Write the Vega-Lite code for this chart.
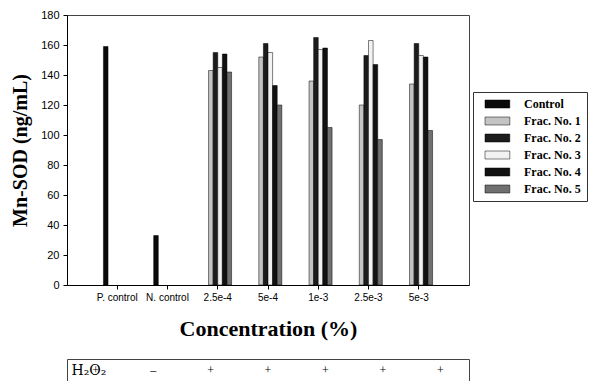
{
  "$schema": "https://vega.github.io/schema/vega-lite/v6.json",
  "padding": {"left": 10, "top": 8, "right": 0, "bottom": 0},
  "background": "white",
  "config": {
    "view": {"stroke": "#444", "strokeWidth": 1},
    "axis": {"domainColor": "#000", "tickColor": "#000", "labelColor": "#000", "titleColor": "#000", "grid": false}
  },
  "spacing": 18,
  "vconcat": [
    {
      "width": 402,
      "height": 270,
      "data": {
        "values": [
          {"conc": "P. control", "series": "Control", "value": 159},
          {"conc": "N. control", "series": "Control", "value": 33},
          {"conc": "2.5e-4", "series": "Frac. No. 1", "value": 143},
          {"conc": "2.5e-4", "series": "Frac. No. 2", "value": 155},
          {"conc": "2.5e-4", "series": "Frac. No. 3", "value": 145},
          {"conc": "2.5e-4", "series": "Frac. No. 4", "value": 154},
          {"conc": "2.5e-4", "series": "Frac. No. 5", "value": 142},
          {"conc": "5e-4", "series": "Frac. No. 1", "value": 152},
          {"conc": "5e-4", "series": "Frac. No. 2", "value": 161},
          {"conc": "5e-4", "series": "Frac. No. 3", "value": 155},
          {"conc": "5e-4", "series": "Frac. No. 4", "value": 133},
          {"conc": "5e-4", "series": "Frac. No. 5", "value": 120},
          {"conc": "1e-3", "series": "Frac. No. 1", "value": 136},
          {"conc": "1e-3", "series": "Frac. No. 2", "value": 165},
          {"conc": "1e-3", "series": "Frac. No. 3", "value": 157},
          {"conc": "1e-3", "series": "Frac. No. 4", "value": 158},
          {"conc": "1e-3", "series": "Frac. No. 5", "value": 105},
          {"conc": "2.5e-3", "series": "Frac. No. 1", "value": 120},
          {"conc": "2.5e-3", "series": "Frac. No. 2", "value": 153},
          {"conc": "2.5e-3", "series": "Frac. No. 3", "value": 163},
          {"conc": "2.5e-3", "series": "Frac. No. 4", "value": 147},
          {"conc": "2.5e-3", "series": "Frac. No. 5", "value": 97},
          {"conc": "5e-3", "series": "Frac. No. 1", "value": 134},
          {"conc": "5e-3", "series": "Frac. No. 2", "value": 161},
          {"conc": "5e-3", "series": "Frac. No. 3", "value": 153},
          {"conc": "5e-3", "series": "Frac. No. 4", "value": 152},
          {"conc": "5e-3", "series": "Frac. No. 5", "value": 103}
        ]
      },
      "mark": {"type": "bar", "stroke": "#000", "strokeWidth": 0.5},
      "encoding": {
        "x": {
          "field": "conc", "type": "nominal",
          "scale": {"domain": ["P. control", "N. control", "2.5e-4", "5e-4", "1e-3", "2.5e-3", "5e-3"], "paddingInner": 0.45, "paddingOuter": 0.725},
          "axis": {"title": "Concentration  (%)", "labelAngle": 0, "labelFont": "Liberation Sans", "labelFontSize": 10, "labelPadding": 3, "tickSize": 4, "titleFont": "Liberation Serif", "titleFontSize": 22, "titleFontWeight": "bold", "titlePadding": 16}
        },
        "xOffset": {
          "field": "series", "type": "nominal",
          "scale": {"domain": ["Control", "Frac. No. 1", "Frac. No. 2", "Frac. No. 3", "Frac. No. 4", "Frac. No. 5"], "paddingInner": 0, "paddingOuter": 0}
        },
        "y": {
          "field": "value", "type": "quantitative",
          "scale": {"domain": [0, 180]},
          "axis": {"values": [0, 20, 40, 60, 80, 100, 120, 140, 160, 180], "title": "Mn-SOD  (ng/mL)", "labelFont": "Liberation Sans", "labelFontSize": 11, "tickSize": 4, "labelPadding": 4, "titleFont": "Liberation Serif", "titleFontSize": 20, "titleFontWeight": "bold", "titlePadding": 10}
        },
        "color": {
          "field": "series", "type": "nominal",
          "scale": {"domain": ["Control", "Frac. No. 1", "Frac. No. 2", "Frac. No. 3", "Frac. No. 4", "Frac. No. 5"], "range": ["#0a0a0a", "#c4c4c4", "#1c1c1c", "#f2f2f2", "#111111", "#707070"]},
          "legend": {"orient": "none", "legendX": 406, "legendY": 77, "title": null, "symbolType": "M0,-1H6.2V1H0Z", "symbolSize": 64, "symbolStrokeColor": "#000", "symbolStrokeWidth": 0.5, "labelFont": "Liberation Serif", "labelFontSize": 12, "labelFontWeight": "bold", "labelColor": "#000", "labelOffset": 33, "rowPadding": 5, "padding": 6, "strokeColor": "#333"}
        }
      }
    },
    {
      "width": 402,
      "height": 22,
      "data": {
        "values": [
          {"conc": "P. control", "row": "H₂O₂", "sign": "+"},
          {"conc": "N. control", "row": "H₂O₂", "sign": "–"},
          {"conc": "2.5e-4", "row": "H₂O₂", "sign": "+"},
          {"conc": "5e-4", "row": "H₂O₂", "sign": "+"},
          {"conc": "1e-3", "row": "H₂O₂", "sign": "+"},
          {"conc": "2.5e-3", "row": "H₂O₂", "sign": "+"},
          {"conc": "5e-3", "row": "H₂O₂", "sign": "+"}
        ]
      },
      "mark": {"type": "text", "font": "Liberation Serif", "fontSize": 12, "fill": "#000"},
      "encoding": {
        "x": {
          "field": "conc", "type": "nominal",
          "scale": {"domain": ["P. control", "N. control", "2.5e-4", "5e-4", "1e-3", "2.5e-3", "5e-3"], "paddingInner": 0.45, "paddingOuter": 0.725},
          "axis": null
        },
        "y": {
          "field": "row", "type": "nominal",
          "axis": {"title": null, "domain": false, "ticks": false, "tickSize": 0, "labelFont": "DejaVu Serif", "labelFontSize": 14, "labelAlign": "left", "labelPadding": -4, "labelColor": "#000"}
        },
        "text": {"field": "sign"}
      }
    }
  ]
}
